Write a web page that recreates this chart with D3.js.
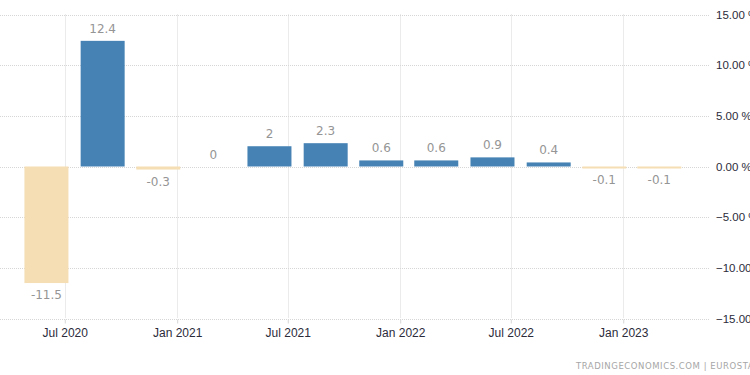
<!DOCTYPE html>
<html>
<head>
<meta charset="utf-8">
<script src="https://cdn.jsdelivr.net/npm/d3@7"></script>
<style>
  body { margin: 0; background: #fff; }
  svg { display: block; font-family: "DejaVu Sans", Verdana, sans-serif; }
</style>
</head>
<body>
<div id="chart"></div>
<script>
// quarterly GDP growth, QoQ %
const quarters = ["2020-06-01", "2020-09-01", "2020-12-01", "2021-03-01",
                  "2021-06-01", "2021-09-01", "2021-12-01", "2022-03-01",
                  "2022-06-01", "2022-09-01", "2022-12-01", "2023-03-01"];
const values = [-11.5, 12.4, -0.3, 0, 2, 2.3, 0.6, 0.6, 0.9, 0.4, -0.1, -0.1];
const labels = ["-11.5", "12.4", "-0.3", "0", "2", "2.3", "0.6", "0.6", "0.9", "0.4", "-0.1", "-0.1"];
const xTicks = ["2020-07-01", "2021-01-01", "2021-07-01", "2022-01-01", "2022-07-01", "2023-01-01"];
const yTicks = [15, 10, 5, 0, -5, -10, -15];

const width = 750, height = 375;
const parse = d3.timeParse("%Y-%m-%d");

const data = quarters.map((q, i) => ({date: parse(q), value: values[i], label: labels[i]}));

let svg = d3.select("#chart")
    .append("svg")
    .attr("width", width)
    .attr("height", height);

// x scale: time, plot spans from left edge to ~710px
let x = d3.scaleTime()
    .domain([parse("2020-03-17"), parse("2023-05-23")])
    .range([0, 710]);

let y = d3.scaleLinear()
    .domain([-15, 15])
    .range([318.5, 14.5]);

const barW = 44;

// horizontal grid
svg.append("g")
    .selectAll("line")
    .data(yTicks)
    .join("line")
    .attr("x1", 0)
    .attr("x2", 710)
    .attr("y1", d => Math.round(y(d)) + 0.5)
    .attr("y2", d => Math.round(y(d)) + 0.5)
    .attr("stroke", "#d6d6d6")
    .attr("stroke-dasharray", "1,1");

// vertical grid
svg.append("g")
    .selectAll("line")
    .data(xTicks)
    .join("line")
    .attr("x1", d => Math.round(x(parse(d))) + 0.5)
    .attr("x2", d => Math.round(x(parse(d))) + 0.5)
    .attr("y1", y(15))
    .attr("y2", y(-15))
    .attr("stroke", "#d6d6d6")
    .attr("stroke-dasharray", "1,1");

// bottom axis
let xAxis = svg.append("g")
    .attr("transform", `translate(0, ${Math.round(y(-15)) + 0.5})`)
    .call(d3.axisBottom(x)
        .tickValues(xTicks.map(parse))
        .tickFormat(d3.timeFormat("%b %Y"))
        .tickSize(4)
        .tickPadding(5));
xAxis.select(".domain").remove();
xAxis.selectAll(".tick line").attr("stroke", "#d6d6d6");
xAxis.selectAll("text")
    .attr("fill", "#2b2b3a")
    .style("font-size", "12px");

// right axis labels (cut off at the window edge as in the original)
let yAxis = svg.append("g")
    .attr("transform", "translate(716, 0)")
    .call(d3.axisRight(y)
        .tickValues(yTicks)
        .tickFormat(d => d3.format(".2f")(d) + " %")
        .tickSize(0)
        .tickPadding(0));
yAxis.select(".domain").remove();
yAxis.selectAll("text")
    .attr("fill", "#2b2b3a")
    .style("font-size", "11.5px");

// bars
svg.append("g")
    .selectAll("rect")
    .data(data)
    .join("rect")
    .attr("x", d => x(d.date) - barW / 2)
    .attr("y", d => y(Math.max(0, d.value)))
    .attr("width", barW)
    .attr("height", d => Math.max(Math.abs(y(d.value) - y(0)), d.value === 0 ? 0 : 2))
    .attr("fill", d => d.value >= 0 ? "#4682b4" : "#f5deb3");

// value labels
svg.append("g")
    .selectAll("text")
    .data(data)
    .join("text")
    .attr("x", d => x(d.date))
    .attr("y", d => d.value >= 0 ? y(d.value) - 8 : y(d.value) + 16)
    .attr("text-anchor", "middle")
    .attr("fill", "#959595")
    .style("font-size", "12px")
    .text(d => d.label);

// source note
svg.append("text")
    .attr("x", 576)
    .attr("y", 369)
    .attr("fill", "#a6a6a6")
    .style("font-size", "8.5px")
    .style("letter-spacing", "0.55px")
    .text("TRADINGECONOMICS.COM  |  EUROSTAT");
</script>
</body>
</html>
